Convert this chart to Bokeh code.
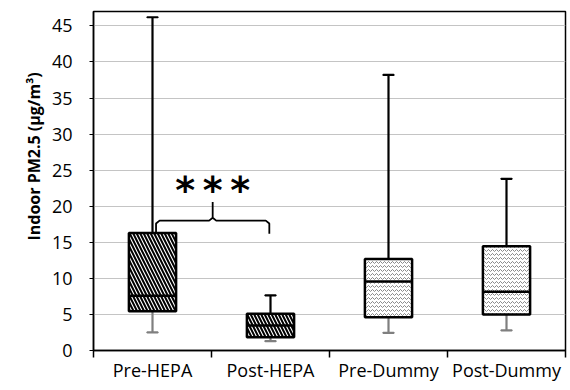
from bokeh.plotting import figure
from bokeh.embed import file_html
from bokeh.resources import INLINE
from bokeh.models import FixedTicker, ColumnDataSource, Title
from bokeh.core.properties import value

categories = ["Pre-HEPA", "Post-HEPA", "Pre-Dummy", "Post-Dummy"]
whisker_low = [2.5, 1.3, 2.45, 2.8]
q1 = [5.45, 1.85, 4.6, 5.0]
median = [7.6, 3.45, 9.55, 8.15]
q3 = [16.3, 5.1, 12.7, 14.45]
whisker_high = [46.2, 7.65, 38.2, 23.8]
hatches = ["\\", "\\", "v", "v"]
hatch_colors = ["black", "black", "#8a8a8a", "#8a8a8a"]
hatch_scales = [7, 7, 4, 4]
hatch_weights = [2, 2, 1, 1]
y_ticks = [0, 5, 10, 15, 20, 25, 30, 35, 40, 45]

xs = [i + 0.5 for i in range(len(categories))]
src = ColumnDataSource(dict(x=xs, xl=[x - 0.2 for x in xs], xr=[x + 0.2 for x in xs],
                            lo=whisker_low, q1=q1, med=median, q3=q3, hi=whisker_high,
                            hatch=hatches, hc=hatch_colors, hs=hatch_scales, hw=hatch_weights))

p = figure(width=568, height=388, output_backend="svg", toolbar_location=None,
           x_range=(0, 4), y_range=(0, 47),
           min_border_left=93, min_border_right=3, min_border_top=11, min_border_bottom=38)
p.outline_line_color = "black"
p.outline_line_width = 1.5

font = "Open Sans"
# axes
p.xaxis.ticker = FixedTicker(ticks=xs, minor_ticks=[0, 1, 2, 3, 4])
p.xaxis.major_label_overrides = {x: c for x, c in zip(xs, categories)}
p.xaxis.major_tick_out = 0
p.xaxis.major_tick_in = 0
p.xaxis.minor_tick_out = 7
p.xaxis.minor_tick_in = 0
p.xaxis.minor_tick_line_color = "black"
p.xaxis.minor_tick_line_width = 1.5
p.xaxis.axis_line_color = "black"
p.xaxis.axis_line_width = 1.5
p.xaxis.major_label_text_font = font
p.xaxis.major_label_text_font_size = "18px"
p.xaxis.major_label_text_color = "black"
p.xaxis.major_label_standoff = 0

p.yaxis.ticker = FixedTicker(ticks=y_ticks, minor_ticks=[])
p.yaxis.major_tick_out = 4
p.yaxis.major_tick_in = 0
p.yaxis.axis_line_color = "black"
p.yaxis.axis_line_width = 1.5
p.yaxis.major_label_text_font = font
p.yaxis.major_label_text_font_size = "18px"
p.yaxis.major_label_text_color = "black"
p.yaxis.major_label_standoff = 17

p.xgrid.grid_line_color = None
p.ygrid.grid_line_color = "#c4c4c4"
p.ygrid.grid_line_width = 1.2

# y-axis title
p.add_layout(Title(text="Indoor PM2.5 (µg/m³)", align="left", offset=110,
                   text_font=font, text_font_style="bold", text_font_size="16px",
                   text_color="black", standoff=8), "left")

# whiskers
p.segment(x0="x", y0="q3", x1="x", y1="hi", source=src, line_color="black", line_width=2.2)
p.segment(x0="x", y0="lo", x1="x", y1="q1", source=src, line_color="#7f7f7f", line_width=2.2)
p.rect(x="x", y="hi", width=0.09, height=0.001, source=src, line_color="black", line_width=2.2)
p.rect(x="x", y="lo", width=0.09, height=0.001, source=src, line_color="#7f7f7f", line_width=2.2)

# boxes
p.vbar(x="x", bottom="q1", top="q3", width=0.4, source=src, fill_color="white",
       line_color="black", line_width=2.5, hatch_pattern="hatch", hatch_color="hc",
       hatch_scale="hs", hatch_weight="hw")
p.segment(x0="xl", y0="med", x1="xr", y1="med", source=src, line_color="black", line_width=2.5)

# significance bracket
p.line(x=[0.53, 0.53, 0.56, 0.98, 1.01, 1.01, 1.01, 1.04, 1.46, 1.49, 1.49],
       y=[16.3, 17.6, 18.0, 18.0, 18.4, 20.6, 18.4, 18.0, 18.0, 17.6, 16.2],
       line_color="black", line_width=1.8)
p.text(x=[1.01], y=[22.3], text=["*\u2009*\u2009*"], text_font=value("DejaVu Sans"),
       text_font_style="bold", text_font_size="38px", text_align="center",
       text_baseline="middle", text_color="black")

open("out.html", "w").write(file_html(p, INLINE))
